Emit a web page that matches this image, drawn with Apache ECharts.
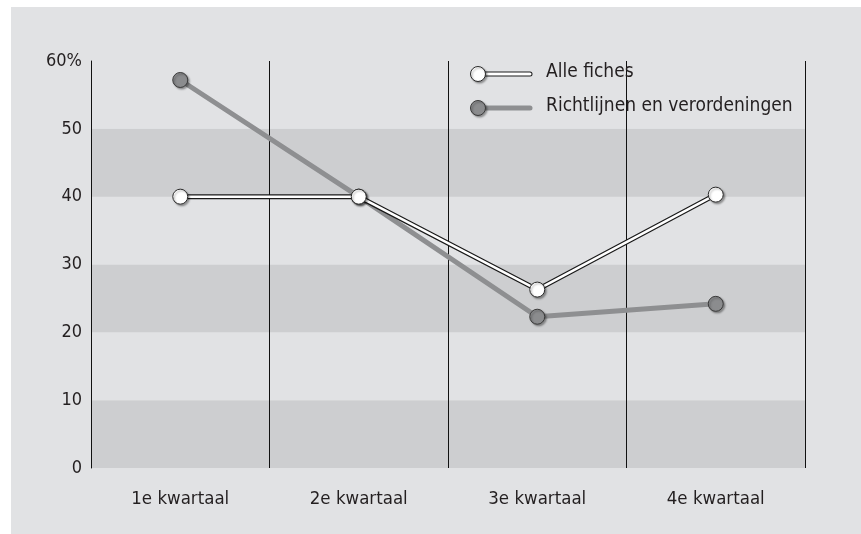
<!DOCTYPE html>
<html>
<head>
<meta charset="utf-8">
<script src="https://cdn.jsdelivr.net/npm/echarts@6/dist/echarts.min.js"></script>
<style>
  html, body { margin: 0; padding: 0; background: #fff; }
  #chart { position: absolute; left: 11px; top: 7px; width: 850px; height: 527px; }
</style>
</head>
<body>
<div id="chart"></div>
<script>
var categories = ['1e kwartaal', '2e kwartaal', '3e kwartaal', '4e kwartaal'];
var seriesNames = ['Alle fiches', 'Richtlijnen en verordeningen'];
var alleFiches = [40, 40, 26.3, 40.3];
var richtlijnen = [57.2, 40, 22.3, 24.2];
var yTicks = [0, 10, 20, 30, 40, 50, 60];

var FONT = '"DejaVu Sans Condensed", "Liberation Sans Narrow", sans-serif';
var TXT = '#231f20';
var shadow = { shadowColor: 'rgba(0,0,0,0.35)', shadowBlur: 2, shadowOffsetX: 1.5, shadowOffsetY: 1.5 };

var myChart = echarts.init(document.getElementById('chart'));

var option = {
    backgroundColor: '#e1e2e4',
    animation: false,
    grid: { left: 80, top: 54, right: 56, bottom: 66 },
    xAxis: {
        type: 'category',
        data: categories,
        boundaryGap: true,
        axisLine: { show: false },
        axisTick: { show: false },
        axisLabel: { color: TXT, fontFamily: FONT, fontSize: 18.5, margin: 22 },
        splitLine: { show: true, interval: 0, lineStyle: { color: '#111', width: 1 } }
    },
    yAxis: {
        type: 'value',
        min: yTicks[0],
        max: yTicks[yTicks.length - 1],
        interval: 10,
        axisLine: { show: true, lineStyle: { color: '#111', width: 1 } },
        axisTick: { show: false },
        axisLabel: {
            color: TXT, fontFamily: FONT, fontSize: 18, margin: 9,
            formatter: function (v) { return v === 60 ? '60%' : String(v); }
        },
        splitLine: { show: false },
        splitArea: { show: true, areaStyle: { color: ['#cdced0', '#e1e2e4'] } }
    },
    series: [
        {
            name: seriesNames[1],
            type: 'line',
            data: richtlijnen,
            symbol: 'circle',
            symbolSize: 15,
            lineStyle: { color: '#8e8f91', width: 5 },
            itemStyle: Object.assign({ color: '#8b8c8e', borderColor: '#3a3a3a', borderWidth: 1 }, shadow),
            z: 2
        },
        {
            name: seriesNames[0] + ' rand',
            type: 'line',
            data: alleFiches,
            symbol: 'none',
            lineStyle: { color: '#1a1a1a', width: 5 },
            z: 3
        },
        {
            name: seriesNames[0],
            type: 'line',
            data: alleFiches,
            symbol: 'circle',
            symbolSize: 15,
            lineStyle: { color: '#ffffff', width: 2.5 },
            itemStyle: Object.assign({ color: '#ffffff', borderColor: '#2a2a2a', borderWidth: 1 }, shadow),
            z: 4
        }
    ],
    graphic: [
        // legenda
        { type: 'line', shape: { x1: 468, y1: 67, x2: 519, y2: 67 }, style: { stroke: '#1a1a1a', lineWidth: 5, lineCap: 'round' }, z: 10 },
        { type: 'line', shape: { x1: 468, y1: 67, x2: 519, y2: 67 }, style: { stroke: '#fff', lineWidth: 3, lineCap: 'round' }, z: 11 },
        { type: 'circle', shape: { cx: 467, cy: 67, r: 7.5 }, style: Object.assign({ fill: '#fff', stroke: '#2a2a2a', lineWidth: 1 }, shadow), z: 12 },
        { type: 'text', left: 535, top: 56, style: { text: seriesNames[0], fill: TXT, font: '19px ' + FONT }, z: 12 },
        { type: 'line', shape: { x1: 468, y1: 101, x2: 519, y2: 101 }, style: { stroke: '#8e8f91', lineWidth: 5, lineCap: 'round' }, z: 10 },
        { type: 'circle', shape: { cx: 467, cy: 101, r: 7.5 }, style: Object.assign({ fill: '#8b8c8e', stroke: '#3a3a3a', lineWidth: 1 }, shadow), z: 12 },
        { type: 'text', left: 535, top: 90, style: { text: seriesNames[1], fill: TXT, font: '19px ' + FONT }, z: 12 }
    ]
};
myChart.setOption(option);
window.addEventListener('resize', function () {
    myChart.resize();
});
</script>
</body>
</html>
